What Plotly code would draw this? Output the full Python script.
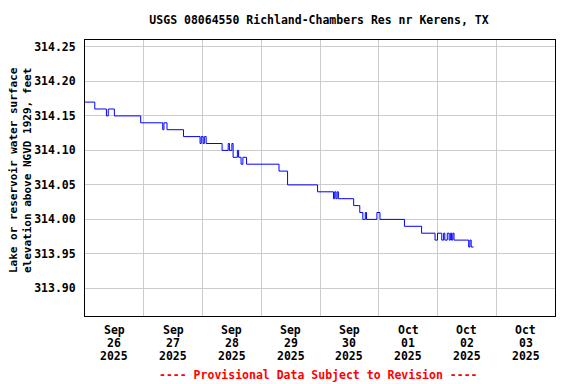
import plotly.graph_objects as go

times = [
    "2025-09-26 00:00", "2025-09-26 04:00", "2025-09-26 08:45", "2025-09-26 09:30",
    "2025-09-26 12:00", "2025-09-26 22:45", "2025-09-27 07:45", "2025-09-27 08:15",
    "2025-09-27 09:30", "2025-09-27 16:15", "2025-09-27 23:00", "2025-09-27 23:30",
    "2025-09-28 00:15", "2025-09-28 00:45", "2025-09-28 01:30", "2025-09-28 08:00",
    "2025-09-28 10:30", "2025-09-28 11:00", "2025-09-28 12:00", "2025-09-28 12:30",
    "2025-09-28 14:15", "2025-09-28 14:45", "2025-09-28 15:45", "2025-09-28 16:30",
    "2025-09-28 18:00", "2025-09-29 07:15", "2025-09-29 10:45", "2025-09-29 23:00",
    "2025-09-30 05:30", "2025-09-30 06:00", "2025-09-30 06:30", "2025-09-30 07:00",
    "2025-09-30 07:30", "2025-09-30 13:45", "2025-09-30 16:15", "2025-09-30 17:30",
    "2025-09-30 18:30", "2025-09-30 19:00", "2025-09-30 23:15", "2025-10-01 00:30",
    "2025-10-01 10:30", "2025-10-01 17:30", "2025-10-01 23:00", "2025-10-02 00:00",
    "2025-10-02 01:45", "2025-10-02 02:30", "2025-10-02 03:00", "2025-10-02 04:00",
    "2025-10-02 04:45", "2025-10-02 05:15", "2025-10-02 05:45", "2025-10-02 06:15",
    "2025-10-02 06:45", "2025-10-02 12:45", "2025-10-02 13:15", "2025-10-02 13:45",
    "2025-10-02 14:45",
]
elevation = [
    314.17, 314.16, 314.15, 314.16,
    314.15, 314.14, 314.13, 314.14,
    314.13, 314.12, 314.11, 314.12,
    314.11, 314.12, 314.11, 314.10,
    314.11, 314.10, 314.11, 314.09,
    314.10, 314.09, 314.08, 314.09,
    314.08, 314.07, 314.05, 314.04,
    314.03, 314.04, 314.03, 314.04,
    314.03, 314.02, 314.01, 314.00,
    314.01, 314.00, 314.01, 314.00,
    313.99, 313.98, 313.97, 313.98,
    313.97, 313.98, 313.97, 313.98,
    313.97, 313.98, 313.97, 313.98,
    313.97, 313.96, 313.97, 313.96,
    313.96,
]

label_positions = ["2025-09-26 12:00", "2025-09-27 12:00", "2025-09-28 12:00", "2025-09-29 12:00",
                   "2025-09-30 12:00", "2025-10-01 12:00", "2025-10-02 12:00", "2025-10-03 12:00"]
label_month = ["Sep", "Sep", "Sep", "Sep", "Sep", "Oct", "Oct", "Oct"]
label_day = ["26", "27", "28", "29", "30", "01", "02", "03"]
label_year = ["2025"] * 8
day_bounds = ["2025-09-27", "2025-09-28", "2025-09-29", "2025-09-30",
              "2025-10-01", "2025-10-02", "2025-10-03"]
y_ticks = [313.90, 313.95, 314.00, 314.05, 314.10, 314.15, 314.20, 314.25]

FONT = "DejaVu Sans Mono"
FS = 11.5

# the page body adds an ~8px margin at top/left, so the figure is sized to fit the window
W, H = 568, 376

fig = go.Figure()
fig.add_trace(go.Scatter(x=times, y=elevation, mode="lines", line_shape="hv",
                         line=dict(color="#0000ff", width=1), showlegend=False))

annotations = []
for rows_idx, row in enumerate([label_month, label_day, label_year]):
    for pos, txt in zip(label_positions, row):
        annotations.append(dict(
            text=txt, x=pos, xref="x", y=0, yref="paper",
            yanchor="middle", xanchor="center", yshift=-14 - 13 * rows_idx,
            showarrow=False, font=dict(family=FONT, size=FS, color="black", weight="bold")))
annotations.append(dict(text="---- Provisional Data Subject to Revision ----",
                        xref="paper", yref="paper", x=0.497, y=0, yshift=-59,
                        xanchor="center", yanchor="middle", showarrow=False,
                        font=dict(family=FONT, size=FS, color="red", weight="bold")))
annotations.append(dict(text="Lake or reservoir water surface<br>elevation above NGVD 1929, feet",
                        xref="paper", yref="paper", x=0, y=0.5, xshift=-65, yshift=8,
                        xanchor="center", yanchor="middle", textangle=-90, showarrow=False,
                        font=dict(family=FONT, size=11, color="black", weight="bold")))

fig.update_layout(
    width=W, height=H,
    margin=dict(l=77, r=21, t=32, b=68),
    paper_bgcolor="white", plot_bgcolor="white",
    title=dict(text="USGS 08064550 Richland-Chambers Res nr Kerens, TX",
               x=311 / W, xanchor="center", xref="container", y=1 - 12 / H, yanchor="middle",
               font=dict(family=FONT, size=FS, color="black", weight="bold")),
    xaxis=dict(
        range=["2025-09-26 00:00", "2025-10-04 00:00"],
        tickmode="array", tickvals=label_positions, ticktext=[""] * 8,
        showgrid=False, ticks="", showline=True, linecolor="black", linewidth=1, mirror=True,
        minor=dict(tickmode="array", tickvals=day_bounds, showgrid=True,
                   gridcolor="#cccccc", gridwidth=1, ticks=""),
        zeroline=False, automargin=False,
    ),
    yaxis=dict(
        range=[313.86, 314.26],
        tickmode="array", tickvals=y_ticks, ticktext=[f"{v:.2f}" for v in y_ticks],
        showgrid=True, gridcolor="#cccccc", gridwidth=1,
        showline=True, linecolor="black", linewidth=1, mirror=True,
        ticks="", ticklabelstandoff=6,
        tickfont=dict(family=FONT, size=FS, color="black", weight="bold"),
        zeroline=False, automargin=False,
    ),
    annotations=annotations,
)

fig.write_html("out.html")
